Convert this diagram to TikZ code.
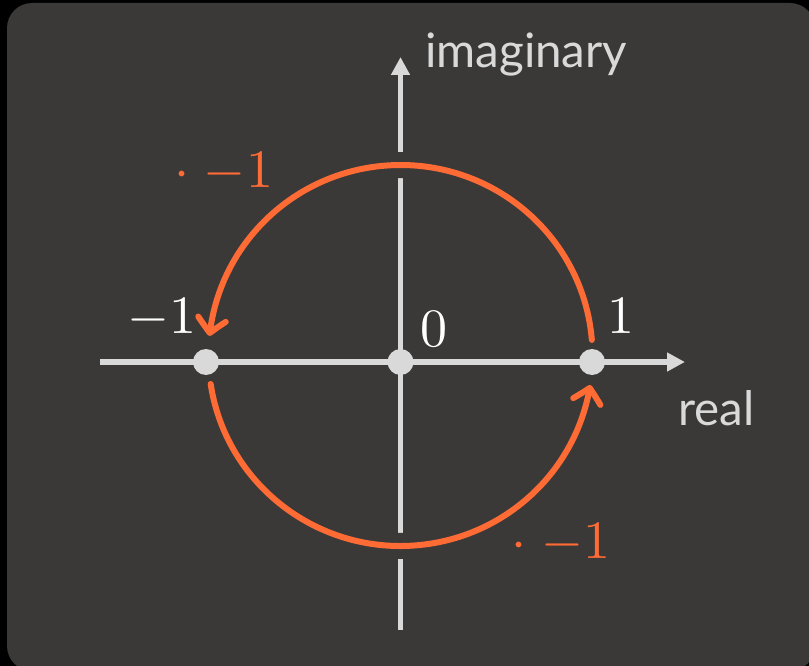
\documentclass[tikz,border=0pt]{standalone}
\usepackage{fontspec}
\newfontfamily\labelfont{Lato}
\usetikzlibrary{arrows.meta,bending}
\definecolor{bgc}{HTML}{3A3938}
\definecolor{axisc}{HTML}{D9D9D9}
\definecolor{orangec}{HTML}{FF6B35}
\begin{document}
\begin{tikzpicture}[x=1pt,y=-1pt,
  axisline/.style={draw=axisc, line width=5.5pt},
  axisarrow/.style={axisline, -{Triangle[length=18pt,width=18pt]}},
  turn/.style={draw=orangec, line width=6pt, line cap=round,
    -{Straight Barb[length=14pt,width=28pt,round,bend]}},
  gapline/.style={draw=bgc, line width=26pt},
  pointdot/.style={circle, fill=axisc, minimum size=26pt, inner sep=0pt},
  axislabel/.style={text=axisc, inner sep=0pt, anchor=base west, font=\labelfont\fontsize{47.5}{52}\selectfont},
  numlabel/.style={text=white, inner sep=0pt, anchor=base west, scale=5.4},
  orangelabel/.style={text=orangec, inner sep=0pt, anchor=base west, scale=5.4}
]
\useasboundingbox (0,0) rectangle (809,666);
\fill[black] (0,0) rectangle (809,666);
\begin{scope}
\clip (0,0) rectangle (809,666);
\fill[bgc, rounded corners=25pt] (7,3) rectangle (815,671);
\end{scope}

% coordinates
\coordinate (O) at (400.5,362);
\coordinate (C) at (400.5,355.5);
\coordinate (xstart) at (100,362);
\coordinate (xend) at (685,362);
\coordinate (ystart) at (400.5,630);
\coordinate (yend) at (400.5,57);

% axes
\draw[axisarrow] (xstart) -- (xend);
\draw[axisarrow] (ystart) -- (yend);

% gaps where the circle crosses the vertical axis
\draw[gapline] (C) ++(-96:192 and 190.5) arc[start angle=-96, end angle=-84, x radius=192, y radius=190.5];
\draw[gapline] (C) ++(84:192 and 190.5) arc[start angle=84, end angle=96, x radius=192, y radius=190.5];

% orange arcs
\draw[turn] (C) ++(-4.7:192 and 190.5) arc[start angle=-4.7, end angle=-174.1, x radius=192, y radius=190.5];
\draw[turn] (C) ++(171.4:192 and 190.5) arc[start angle=171.4, end angle=8.9, x radius=192, y radius=190.5];

% points
\node[pointdot] (m1) at (206,362) {};
\node[pointdot] (zero) at (O) {};
\node[pointdot] (p1) at (592,362) {};

% labels
\node[axislabel] (imag) at (425,68) {imaginary};
\node[axislabel] (real) at (678,425) {real};
\node[numlabel] (lm1) at (126,333) {$-1$};
\node[numlabel] (l0) at (419,346) {$0$};
\node[numlabel] (l1) at (606,333) {$1$};
\node[orangelabel] (top) at (173,187) {$\cdot\;{-1}$};
\node[orangelabel] (bot) at (510,558) {$\cdot\;{-1}$};
\end{tikzpicture}
\end{document}
